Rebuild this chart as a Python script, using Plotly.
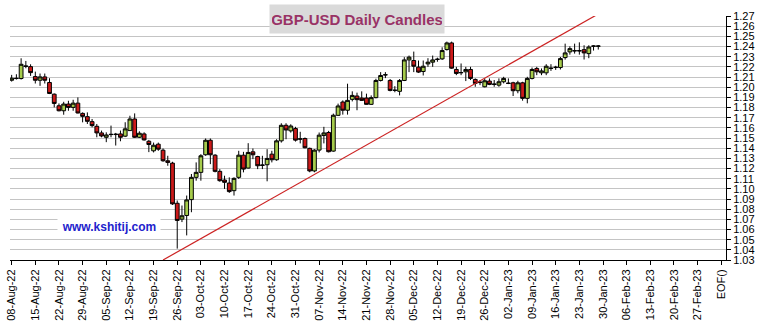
import pandas as pd
import plotly.graph_objects as go

# ---- data ----
dates = [d.strftime("%Y-%m-%d") for d in pd.bdate_range("2022-08-08", "2023-01-27")]

opens = [1.2068, 1.2088, 1.2085, 1.2209, 1.2202,
         1.2104, 1.2068, 1.2101, 1.2046, 1.1931,
         1.1817, 1.1768, 1.1834, 1.1801, 1.1843,
         1.1742, 1.1710, 1.1661, 1.1615, 1.1550,
         1.1507, 1.1537, 1.1534, 1.1540, 1.1518,
         1.1573, 1.1687, 1.1507, 1.1540, 1.1468,
         1.1374, 1.1439, 1.1380, 1.1276, 1.1253,
         1.0858, 1.0702, 1.0738, 1.0894, 1.1113,
         1.1162, 1.1335, 1.1478, 1.1331, 1.1172,
         1.1087, 1.1057, 1.0982, 1.1113, 1.1331,
         1.1204, 1.1364, 1.1318, 1.1230, 1.1237,
         1.1341, 1.1286, 1.1472, 1.1625, 1.1570,
         1.1593, 1.1492, 1.1495, 1.1398, 1.1176,
         1.1381, 1.1525, 1.1554, 1.1371, 1.1723,
         1.1854, 1.1773, 1.1880, 1.1913, 1.1893,
         1.1893, 1.1831, 1.1897, 1.2066, 1.2120,
         1.2066, 1.1968, 1.1959, 1.2066, 1.2268,
         1.2262, 1.2197, 1.2154, 1.2229, 1.2246,
         1.2272, 1.2278, 1.2370, 1.2435, 1.2174,
         1.2141, 1.2151, 1.2174, 1.2076, 1.2045,
         1.2004, 1.2060, 1.2027, 1.2020, 1.2053,
         1.2040, 1.2043, 1.1965, 1.2043, 1.1890,
         1.2086, 1.2184, 1.2141, 1.2141, 1.2184,
         1.2193, 1.2193, 1.2291, 1.2347, 1.2356,
         1.2356, 1.2369, 1.2330, 1.2402, 1.2402]

highs = [1.2121, 1.2127, 1.2284, 1.2258, 1.2225,
         1.2153, 1.2134, 1.2134, 1.2088, 1.1938,
         1.1840, 1.1856, 1.1866, 1.1876, 1.1899,
         1.1752, 1.1752, 1.1687, 1.1638, 1.1573,
         1.1556, 1.1622, 1.1550, 1.1573, 1.1655,
         1.1719, 1.1742, 1.1566, 1.1556, 1.1481,
         1.1455, 1.1455, 1.1397, 1.1325, 1.1266,
         1.0885, 1.0836, 1.0934, 1.1146, 1.1260,
         1.1341, 1.1495, 1.1495, 1.1341, 1.1194,
         1.1129, 1.1113, 1.1113, 1.1374, 1.1364,
         1.1449, 1.1397, 1.1325, 1.1325, 1.1390,
         1.1374, 1.1488, 1.1645, 1.1645, 1.1635,
         1.1610, 1.1561, 1.1505, 1.1405, 1.1390,
         1.1554, 1.1610, 1.1570, 1.1740, 1.1838,
         1.1870, 1.2034, 1.1959, 1.1946, 1.1959,
         1.1936, 1.1919, 1.2083, 1.2148, 1.2148,
         1.2080, 1.2010, 1.2080, 1.2295, 1.2311,
         1.2350, 1.2262, 1.2262, 1.2285, 1.2311,
         1.2290, 1.2392, 1.2448, 1.2448, 1.2200,
         1.2233, 1.2200, 1.2200, 1.2086, 1.2070,
         1.2086, 1.2086, 1.2070, 1.2086, 1.2102,
         1.2086, 1.2053, 1.2063, 1.2053, 1.2102,
         1.2193, 1.2200, 1.2184, 1.2226, 1.2226,
         1.2210, 1.2297, 1.2428, 1.2402, 1.2428,
         1.2441, 1.2412, 1.2412, 1.2412, 1.2412]

lows = [1.2055, 1.2075, 1.2075, 1.2186, 1.2111,
        1.2036, 1.2013, 1.2036, 1.1932, 1.1801,
        1.1762, 1.1729, 1.1768, 1.1768, 1.1742,
        1.1654, 1.1638, 1.1605, 1.1507, 1.1507,
        1.1459, 1.1507, 1.1426, 1.1468, 1.1509,
        1.1570, 1.1500, 1.1500, 1.1475, 1.1361,
        1.1358, 1.1374, 1.1266, 1.1227, 1.0842,
        1.0412, 1.0673, 1.0542, 1.0770, 1.1080,
        1.1080, 1.1325, 1.1243, 1.1162, 1.1070,
        1.0999, 1.0960, 1.0934, 1.1097, 1.1162,
        1.1200, 1.1292, 1.1194, 1.1194, 1.1074,
        1.1260, 1.1276, 1.1455, 1.1488, 1.1553,
        1.1465, 1.1447, 1.1398, 1.1163, 1.1163,
        1.1358, 1.1447, 1.1358, 1.1365, 1.1717,
        1.1730, 1.1730, 1.1860, 1.1773, 1.1865,
        1.1828, 1.1825, 1.1890, 1.2056, 1.2089,
        1.1959, 1.1950, 1.1919, 1.2060, 1.2148,
        1.2148, 1.2140, 1.2115, 1.2200, 1.2200,
        1.2250, 1.2268, 1.2360, 1.2180, 1.2118,
        1.2118, 1.2060, 1.2070, 1.2004, 1.2020,
        1.1998, 1.2020, 1.2004, 1.2004, 1.2037,
        1.2030, 1.1913, 1.1940, 1.1867, 1.1841,
        1.2076, 1.2118, 1.2118, 1.2118, 1.2160,
        1.2170, 1.2174, 1.2271, 1.2320, 1.2330,
        1.2320, 1.2272, 1.2285, 1.2360, 1.2370]

closes = [1.2088, 1.2085, 1.2225, 1.2205, 1.2143,
          1.2068, 1.2101, 1.2068, 1.1938, 1.1840,
          1.1768, 1.1834, 1.1801, 1.1843, 1.1746,
          1.1713, 1.1664, 1.1622, 1.1550, 1.1520,
          1.1530, 1.1534, 1.1537, 1.1507, 1.1590,
          1.1687, 1.1507, 1.1547, 1.1481, 1.1436,
          1.1429, 1.1390, 1.1276, 1.1260, 1.0852,
          1.0689, 1.0735, 1.0891, 1.1113, 1.1162,
          1.1325, 1.1478, 1.1335, 1.1172, 1.1080,
          1.1064, 1.0973, 1.1103, 1.1331, 1.1194,
          1.1358, 1.1335, 1.1227, 1.1234, 1.1299,
          1.1286, 1.1472, 1.1625, 1.1579, 1.1618,
          1.1479, 1.1489, 1.1404, 1.1176, 1.1381,
          1.1528, 1.1550, 1.1365, 1.1724, 1.1815,
          1.1773, 1.1870, 1.1919, 1.1877, 1.1870,
          1.1831, 1.1897, 1.2066, 1.2115, 1.2122,
          1.1968, 1.1970, 1.2066, 1.2268, 1.2295,
          1.2206, 1.2148, 1.2206, 1.2246, 1.2268,
          1.2275, 1.2360, 1.2435, 1.2187, 1.2135,
          1.2144, 1.2174, 1.2086, 1.2037, 1.2049,
          1.2063, 1.2027, 1.2030, 1.2053, 1.2086,
          1.2037, 1.1965, 1.2043, 1.1890, 1.2086,
          1.2174, 1.2151, 1.2160, 1.2206, 1.2187,
          1.2196, 1.2281, 1.2337, 1.2379, 1.2359,
          1.2359, 1.2337, 1.2395, 1.2405, 1.2405]

week_labels = ["08-Aug-22", "15-Aug-22", "22-Aug-22", "29-Aug-22", "05-Sep-22",
               "12-Sep-22", "19-Sep-22", "26-Sep-22", "03-Oct-22", "10-Oct-22",
               "17-Oct-22", "24-Oct-22", "31-Oct-22", "07-Nov-22", "14-Nov-22",
               "21-Nov-22", "28-Nov-22", "05-Dec-22", "12-Dec-22", "19-Dec-22",
               "26-Dec-22", "02-Jan-23", "09-Jan-23", "16-Jan-23", "23-Jan-23",
               "30-Jan-23", "06-Feb-23", "13-Feb-23", "20-Feb-23", "27-Feb-23",
               "EOF()"]

# trend line: (trading-day index, price)
trend_x = [32, 124]
trend_y = [1.030, 1.272]

y_ticks = [round(1.03 + 0.01 * k, 2) for k in range(25)]

# ---- figure ----
idx = list(range(len(dates)))
tick_pos = [5 * k for k in range(len(week_labels))]

fig = go.Figure()
fig.add_trace(go.Candlestick(
    x=idx, open=opens, high=highs, low=lows, close=closes,
    hovertext=dates, whiskerwidth=0,
    increasing=dict(fillcolor="#a6cc4c", line=dict(color="#000000", width=1)),
    decreasing=dict(fillcolor="#cc1a1a", line=dict(color="#000000", width=1)),
    showlegend=False,
))
fig.add_trace(go.Scatter(
    x=trend_x, y=trend_y, mode="lines",
    line=dict(color="#cc2222", width=1.2), showlegend=False, hoverinfo="skip",
))

font_family = "Arial, 'Liberation Sans', sans-serif"
fig.update_layout(
    width=760, height=326,
    margin=dict(l=5, r=32, t=16, b=65),
    paper_bgcolor="white", plot_bgcolor="white",
    boxgap=0.2, boxgroupgap=0,
    font=dict(family=font_family, size=11, color="#000000"),
    xaxis=dict(
        range=[-0.35, 151.0], rangeslider=dict(visible=False),
        tickmode="array", tickvals=tick_pos, ticktext=week_labels,
        tickangle=-90, ticks="outside", ticklen=4, tickcolor="#000000",
        showgrid=False, zeroline=False,
        showline=True, linecolor="#000000", linewidth=1,
        tickfont=dict(size=11, family=font_family),
    ),
    yaxis=dict(
        range=[1.03, 1.27], side="right",
        tickmode="array", tickvals=y_ticks, ticktext=[f"{v:.2f}" for v in y_ticks],
        ticks="outside", ticklen=4, tickcolor="#000000",
        showgrid=True, gridcolor="#c4c4c4", gridwidth=1.3,
        zeroline=False, showline=True, linecolor="#000000", linewidth=1,
        tickfont=dict(size=11, family=font_family),
    ),
    xaxis2=dict(
        overlaying="x", anchor="y", range=[-0.35, 151.0],
        tickmode="array", tickvals=tick_pos, ticks="inside", ticklen=3,
        tickcolor="#000000", showticklabels=False, showgrid=False, zeroline=False,
        side="bottom",
    ),
    yaxis2=dict(
        overlaying="y", anchor="x", side="right", range=[1.03, 1.27],
        tickmode="array", tickvals=y_ticks, ticks="inside", ticklen=3,
        tickcolor="#000000", showticklabels=False, showgrid=False, zeroline=False,
    ),
)

fig.add_annotation(
    xref="paper", yref="paper", x=(355 - 5) / 723, y=(326 - 65 - 19.5 - 0) / 245 - 16 / 245 * 0,
    text="<b>GBP-USD Daily Candles</b>", showarrow=False,
    font=dict(size=15, color="#993366", family=font_family),
    bgcolor="#dadada", width=170, height=24, borderpad=2,
    xanchor="center", yanchor="middle",
)
fig.add_annotation(
    xref="paper", yref="paper", x=(105 - 5) / 723, y=(261 - 228) / 245,
    text="<b>www.kshitij.com</b>", showarrow=False,
    font=dict(size=12, color="#2222cc", family=font_family),
    bgcolor="white", width=100, height=18, borderpad=1,
    xanchor="center", yanchor="middle",
)

fig.write_html("out.html")
